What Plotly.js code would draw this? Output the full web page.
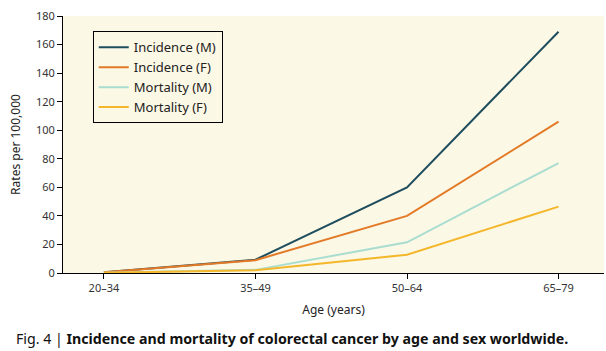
<!DOCTYPE html>
<html><head><meta charset="utf-8">
<script src="https://cdn.plot.ly/plotly-3.0.1.min.js"></script>
<style>html,body{margin:0;padding:0;background:#fff}</style>
</head><body><div id="chart" style="width:606px;height:351px"></div>
<script>
var ageGroups = ["20–34", "35–49", "50–64", "65–79"];
var incidenceM = [0.5, 9.3, 60, 169];
var incidenceF = [0.5, 9, 40, 106];
var mortalityM = [0.2, 2.2, 21.5, 77];
var mortalityF = [0.1, 2, 12.8, 46.5];
var seriesNames = ["Incidence (M)", "Incidence (F)", "Mortality (M)", "Mortality (F)"];
var yTicks = [0, 20, 40, 60, 80, 100, 120, 140, 160, 180];

var colors = ["#1e4d5e", "#e27a27", "#a9ddd0", "#f4b72c"];
var data = [incidenceM, incidenceF, mortalityM, mortalityF].map(function (v, i) {
  return {x: ageGroups, y: v, name: seriesNames[i], type: "scatter", mode: "lines",
          line: {color: colors[i], width: 2}};
});
var font = "Noto Sans, sans-serif";
var layout = {
  width: 606, height: 351,
  margin: {l: 63, r: 2, t: 16, b: 78},
  paper_bgcolor: "#ffffff", plot_bgcolor: "#fcf8e6",
  showlegend: true,
  legend: {x: 0.055, y: 0.94, xanchor: "left", yanchor: "top", bgcolor: "rgba(0,0,0,0)",
           bordercolor: "#000", borderwidth: 1, font: {family: font, size: 13, color: "#222"},
           traceorder: "normal", tracegroupgap: 0, itemwidth: 30},
  xaxis: {type: "category", range: [-0.27, 3.3], showline: true, linecolor: "#000", linewidth: 1,
          ticks: "outside", ticklen: 5, tickcolor: "#000", showgrid: false, zeroline: false,
          tickfont: {family: font, size: 11, color: "#333"},
          title: {text: "Age (years)", font: {family: font, size: 12, color: "#222"}, standoff: 11}},
  yaxis: {range: [0, 180], tickvals: yTicks, showline: true, linecolor: "#000", linewidth: 1,
          ticks: "outside", ticklen: 5, tickcolor: "#000", showgrid: false, zeroline: false,
          tickfont: {family: font, size: 11, color: "#333"},
          title: {text: "Rates per 100,000", font: {family: font, size: 12, color: "#222"}, standoff: 12}},
  annotations: [{xref: "paper", yref: "paper", x: -0.09, y: -0.21, xanchor: "left", yanchor: "top",
    showarrow: false, align: "left",
    text: "Fig. 4 | <b>Incidence and mortality of colorectal cancer by age and sex worldwide.</b>",
    font: {family: font, size: 14.2, color: "#111"}}]
};
Plotly.newPlot("chart", data, layout, {displayModeBar: false, staticPlot: true});
</script></body></html>
